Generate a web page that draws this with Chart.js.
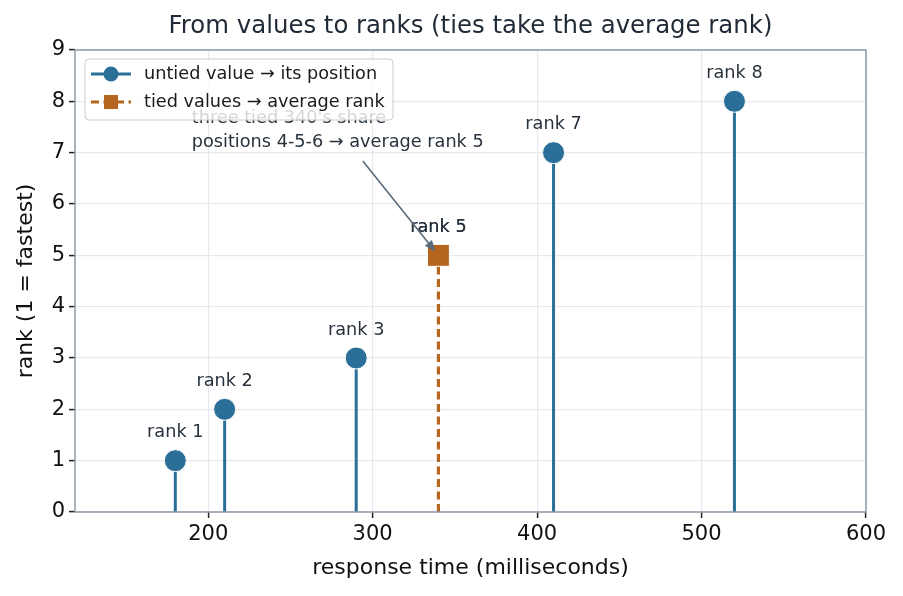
<!DOCTYPE html>
<html>
<head>
<meta charset="utf-8">
<script src="https://cdn.jsdelivr.net/npm/chart.js@4"></script>
<style>
  html, body { margin: 0; padding: 0; background: #fff; }
  #wrap { width: 903px; height: 596px; }
</style>
</head>
<body>
<div id="wrap"><canvas id="chart" width="903" height="596"></canvas></div>
<script>
// data
const untiedTimes = [180, 210, 290, 410, 520]
const untiedRanks = [1, 2, 3, 7, 8]
const tiedTimes = [340]
const tiedRanks = [5]
const xTicks = [200, 300, 400, 500, 600]
const yTicks = [0, 1, 2, 3, 4, 5, 6, 7, 8, 9]

const BLUE = '#2a6f97'
const ORANGE = '#b5651d'
const FONT = '"DejaVu Sans", Verdana, sans-serif'

const untiedPts = untiedTimes.map((t, i) => ({ x: t, y: untiedRanks[i] }))
const tiedPts = tiedTimes.map((t, i) => ({ x: t, y: tiedRanks[i] }))

const decor = {
  id: 'decor',
  beforeDatasetsDraw(chart) {
    const { ctx, scales: { x, y } } = chart
    const y0 = y.getPixelForValue(0)
    ctx.save()
    ctx.lineWidth = 3
    ctx.strokeStyle = BLUE
    untiedPts.forEach(p => {
      const px = x.getPixelForValue(p.x)
      ctx.beginPath(); ctx.moveTo(px, y0); ctx.lineTo(px, y.getPixelForValue(p.y)); ctx.stroke()
    })
    ctx.strokeStyle = ORANGE
    ctx.lineWidth = 3.2
    ctx.setLineDash([8, 4.5])
    tiedPts.forEach(p => {
      const px = x.getPixelForValue(p.x)
      ctx.beginPath(); ctx.moveTo(px, y0); ctx.lineTo(px, y.getPixelForValue(p.y)); ctx.stroke()
    })
    ctx.restore()
  },
  afterDatasetsDraw(chart) {
    const { ctx, chartArea: a, scales: { x, y } } = chart
    ctx.save()
    // frame
    ctx.strokeStyle = '#8e9aa6'
    ctx.lineWidth = 1.5
    ctx.strokeRect(a.left, a.top, a.right - a.left, a.bottom - a.top)

    // rank labels
    ctx.font = '17.7px ' + FONT
    ctx.fillStyle = '#27323d'
    ctx.textAlign = 'center'
    ctx.textBaseline = 'middle'
    untiedPts.concat(tiedPts).forEach(p => {
      ctx.fillText('rank ' + p.y, x.getPixelForValue(p.x), y.getPixelForValue(p.y) - 28)
    })
    tiedPts.forEach(p => {
      ctx.fillText('rank ' + p.y, x.getPixelForValue(p.x), y.getPixelForValue(p.y) - 28)
    })

    // annotation
    const ax = x.getPixelForValue(190), ay = y.getPixelForValue(7.2)
    ctx.textAlign = 'left'
    ctx.fillText("three tied 340's share", ax, ay - 24)
    ctx.fillText('positions 4-5-6 \u2192 average rank 5', ax, ay)
    const sx = x.getPixelForValue(294), sy = y.getPixelForValue(6.84)
    const tp = tiedPts[0]
    let ex = x.getPixelForValue(tp.x), ey = y.getPixelForValue(tp.y)
    const ang = Math.atan2(ey - sy, ex - sx)
    ex -= Math.cos(ang) * 5; ey -= Math.sin(ang) * 5
    ctx.strokeStyle = '#596a7a'
    ctx.fillStyle = '#596a7a'
    ctx.lineWidth = 1.6
    ctx.beginPath(); ctx.moveTo(sx, sy)
    ctx.lineTo(ex - Math.cos(ang) * 8, ey - Math.sin(ang) * 8); ctx.stroke()
    ctx.beginPath()
    ctx.moveTo(ex, ey)
    ctx.lineTo(ex - Math.cos(ang) * 11 + Math.sin(ang) * 4.5, ey - Math.sin(ang) * 11 - Math.cos(ang) * 4.5)
    ctx.lineTo(ex - Math.cos(ang) * 11 - Math.sin(ang) * 4.5, ey - Math.sin(ang) * 11 + Math.cos(ang) * 4.5)
    ctx.closePath(); ctx.fill()
    ctx.restore()
  },
  afterDraw(chart) {
    const { ctx, chartArea: a } = chart
    ctx.save()
    // title
    ctx.font = '24.4px ' + FONT
    ctx.fillStyle = '#1f2a36'
    ctx.textAlign = 'center'
    ctx.textBaseline = 'alphabetic'
    ctx.fillText('From values to ranks (ties take the average rank)', (a.left + a.right) / 2, 33)

    // legend
    const bx = a.left + 10, by = a.top + 9, bw = 308, bh = 61
    ctx.beginPath()
    ctx.roundRect(bx, by, bw, bh, 4)
    ctx.fillStyle = 'rgba(255,255,255,0.8)'
    ctx.fill()
    ctx.strokeStyle = '#cccccc'
    ctx.lineWidth = 1
    ctx.stroke()
    const rows = [
      { label: 'untied value \u2192 its position', color: BLUE, dash: [], shape: 'circle' },
      { label: 'tied values \u2192 average rank', color: ORANGE, dash: [8, 4.5], shape: 'square' }
    ]
    rows.forEach((r, i) => {
      const cy = by + 15 + i * 28
      ctx.strokeStyle = r.color
      ctx.lineWidth = 3
      ctx.setLineDash(r.dash)
      ctx.beginPath(); ctx.moveTo(bx + 6, cy); ctx.lineTo(bx + 46, cy); ctx.stroke()
      ctx.setLineDash([])
      ctx.fillStyle = r.color
      ctx.beginPath()
      if (r.shape === 'circle') ctx.arc(bx + 26, cy, 7.5, 0, Math.PI * 2)
      else ctx.rect(bx + 19, cy - 7, 14, 14)
      ctx.fill()
      ctx.fillStyle = '#1a1a1a'
      ctx.font = '17.7px ' + FONT
      ctx.textAlign = 'left'
      ctx.textBaseline = 'middle'
      ctx.fillText(r.label, bx + 59, cy)
    })
    ctx.restore()
  }
}

new Chart(document.getElementById('chart').getContext('2d'), {
  type: 'scatter',
  data: {
    datasets: [
      {
        label: 'untied value \u2192 its position',
        data: untiedPts,
        pointStyle: 'circle',
        pointRadius: 11,
        pointHoverRadius: 11,
        backgroundColor: BLUE,
        borderColor: '#ffffff',
        borderWidth: 1
      },
      {
        label: 'tied values \u2192 average rank',
        data: tiedPts,
        pointStyle: 'rect',
        pointRadius: 15.5,
        pointHoverRadius: 15.5,
        backgroundColor: ORANGE,
        borderColor: '#ffffff',
        borderWidth: 1
      }
    ]
  },
  options: {
    responsive: false,
    animation: false,
    layout: { padding: { top: 50, right: 37, left: 0, bottom: 0 } },
    plugins: {
      legend: { display: false },
      tooltip: { enabled: false },
      title: { display: false }
    },
    scales: {
      x: {
        type: 'linear',
        min: 119,
        max: 600,
        afterFit: s => { s.height = 84 },
        afterBuildTicks: s => { s.ticks = xTicks.map(v => ({ value: v })) },
        ticks: { font: { family: FONT, size: 21 }, color: '#111', padding: 4 },
        grid: { color: '#e6e9ed', lineWidth: 1.2, tickColor: '#222', tickLength: 6, tickWidth: 1.5 },
        border: { display: false },
        title: {
          display: true,
          text: 'response time (milliseconds)',
          font: { family: FONT, size: 22 },
          color: '#111',
          padding: { top: 0, bottom: 15 }
        }
      },
      y: {
        min: 0,
        max: 9,
        afterFit: s => { s.width = 75 },
        afterBuildTicks: s => { s.ticks = yTicks.map(v => ({ value: v })) },
        ticks: { font: { family: FONT, size: 21 }, color: '#111', padding: 4 },
        grid: { color: '#e6e9ed', lineWidth: 1.2, tickColor: '#222', tickLength: 6, tickWidth: 1.5 },
        border: { display: false },
        title: {
          display: true,
          text: 'rank (1 = fastest)',
          font: { family: FONT, size: 22 },
          color: '#111',
          padding: { top: 13, bottom: 0 }
        }
      }
    }
  },
  plugins: [decor]
})
</script>
</body>
</html>
